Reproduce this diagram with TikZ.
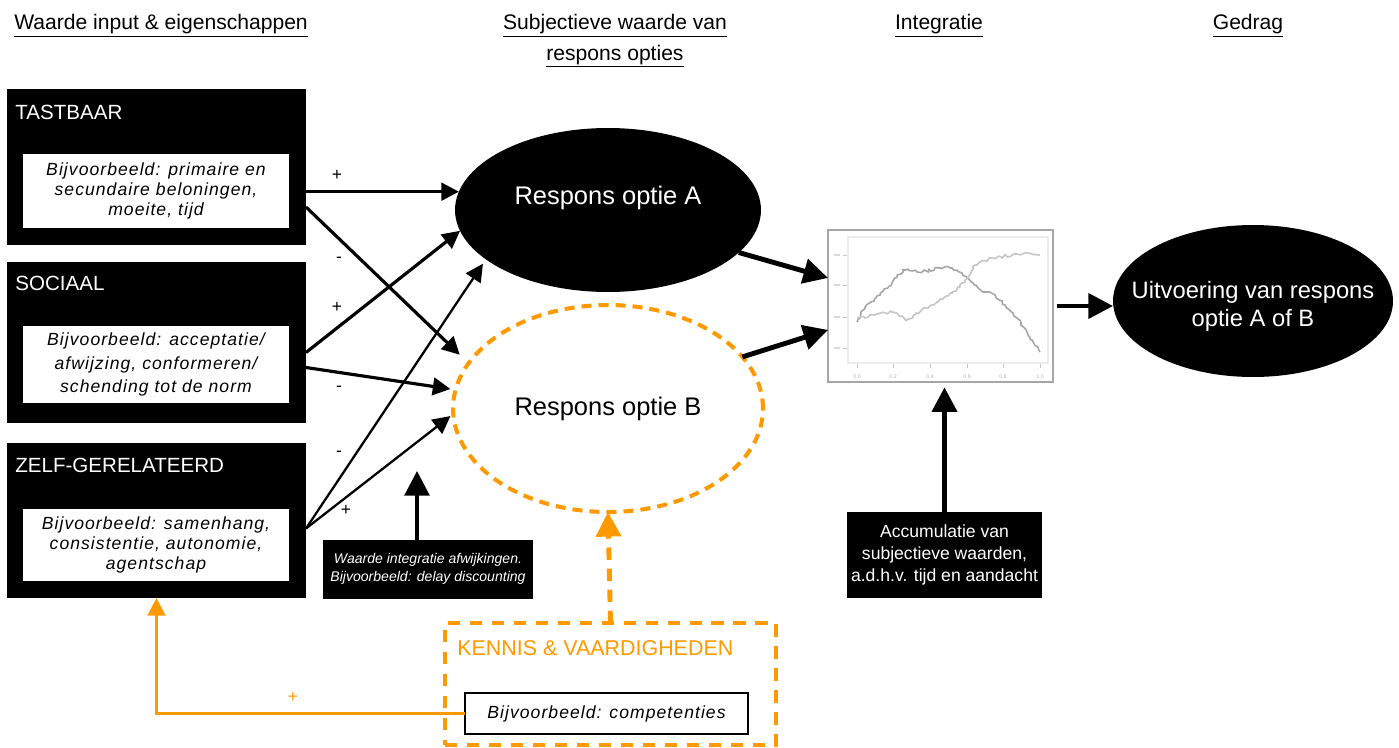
\documentclass[tikz,border=0pt]{standalone}
\usepackage{fontspec}
\setmainfont{Liberation Sans}
\newfontfamily\exfont[LetterSpace=6]{Liberation Sans}
\usetikzlibrary{arrows.meta,shapes,calc,decorations.pathmorphing}
\definecolor{oranje}{RGB}{255,153,0}
\tikzset{
  catbox/.style={fill=black,minimum width=5.98cm,inner sep=0pt,outer sep=0pt},
  exbox/.style={fill=white,minimum width=5.32cm,inner sep=0pt,outer sep=0pt,align=center,
    font=\exfont\itshape\fontsize{10}{11.5}\selectfont},
  cattitle/.style={anchor=west,text=white,font=\fontsize{11.7}{14}\selectfont,inner sep=0pt},
  header/.style={anchor=base,font=\fontsize{12}{17}\selectfont,inner sep=0pt},
  notebox/.style={fill=black,text=white,inner sep=0pt,outer sep=0pt,align=center},
  sign/.style={font=\fontsize{10}{12}\selectfont,inner sep=0pt},
  pijl/.style={-{Triangle[length=10pt,width=10pt]},line width=1.8pt},
  dunpijl/.style={pijl,line width=1.3pt},
  dikpijl/.style={-{Triangle[length=14pt,width=14pt]},line width=2.8pt},
  ruis/.style={line width=0.9pt,decorate,decoration={random steps,segment length=1.4pt,amplitude=0.8pt}}
}
\begin{document}
\begin{tikzpicture}[x=0.02cm,y=-0.02cm]
\useasboundingbox (0,0) rectangle (1399,747);
%headers
\node[header,anchor=base west] (hinput) at (14,30) {\underline{Waarde input \& eigenschappen}};
\node[header] (hsubj) at (615,30) {\underline{Subjectieve waarde van}};
\node[header] (hresp) at (615,60) {\underline{respons opties}};
\node[header] (hinteg) at (939,30) {\underline{Integratie}};
\node[header] (hgedrag) at (1248,30) {\underline{Gedrag}};
%input boxes
\node[catbox,minimum height=3.12cm] (tast) at (156.5,167) {};
\node[cattitle] (tasttitle) at (15,112) {TASTBAAR};
\node[exbox,minimum height=1.48cm] (tastex) at (156,191) {Bijvoorbeeld: primaire en\\secundaire beloningen,\\moeite, tijd};
\node[catbox,minimum height=3.22cm] (soc) at (156.5,342.5) {};
\node[cattitle] (soctitle) at (15,283) {SOCIAAL};
\node[exbox,minimum height=1.54cm] (socex) at (156,364.5) {Bijvoorbeeld: acceptatie/\\[2pt]afwijzing, conformeren/\\[2pt]schending tot de norm};
\node[catbox,minimum height=3.10cm] (zelf) at (156.5,520.5) {};
\node[cattitle] (zelftitle) at (15,465) {ZELF-GERELATEERD};
\node[exbox,minimum height=1.44cm] (zelfex) at (156,545) {Bijvoorbeeld: samenhang,\\consistentie, autonomie,\\agentschap};
%response options
\node[ellipse,fill=black,minimum width=6.12cm,minimum height=3.28cm,inner sep=0pt,outer sep=0pt] (optA) at (608,210) {};
\node[text=white,font=\fontsize{14.5}{17}\selectfont] (optAtxt) at (608,198) {Respons optie A};
\node[ellipse,draw=oranje,line width=2.3pt,dash pattern=on 5.7pt off 4pt,minimum width=6.2cm,minimum height=4.14cm,inner sep=0pt,outer sep=0pt,font=\fontsize{14.5}{17}\selectfont] (optB) at (608,408.5) {Respons optie B};
%integration plot
\node[draw=gray!70,line width=1.3pt,fill=white,minimum width=4.5cm,minimum height=3.04cm,inner sep=0pt,outer sep=0pt] (grafiek) at (940.5,306) {};
\begin{scope}[shift={(grafiek.north west)}]
\draw[gray!15,line width=1.6pt] (20,7) rectangle (220,133);
\foreach \y in {25,55,87,118}{
\draw[gray!45,line width=0.4pt] (15,\y) -- (19,\y);
\draw[gray!30,line width=0.8pt] (6,\y) -- (12,\y);
}
\foreach \x/\l in {29/0.0,65/0.2,102/0.4,139/0.6,175/0.8,212/1.0}{
\draw[gray!45,line width=0.4pt] (\x,134) -- (\x,138);
\node[font=\fontsize{3}{3}\selectfont,text=gray!60,inner sep=0pt] (xl\x) at (\x,147) {\l};
}
\pgfmathsetseed{7}
\draw[gray!70,ruis] (29,92) -- (37,77) -- (52,65) -- (64,53) -- (75,40) -- (94,42) -- (110,38) -- (124,38) -- (134,43) -- (145,53) -- (157,62) -- (167,65) -- (177,75) -- (189,88) -- (200,105) -- (212,122);
\draw[gray!45,ruis] (29,88) -- (47,85) -- (64,82) -- (79,90) -- (97,78) -- (110,72) -- (124,63) -- (137,52) -- (147,35) -- (164,28) -- (184,25) -- (197,23) -- (212,25);
\end{scope}
%behaviour
\node[ellipse,fill=black,minimum width=5.6cm,minimum height=3.04cm,inner sep=0pt,outer sep=0pt] (uitv) at (1253,301) {};
\node[text=white,align=center,font=\fontsize{13.5}{16}\selectfont] (uitvtxt) at (1253,306) {Uitvoering van respons\\optie A of B};
%notes
\node[notebox,minimum width=3.9cm,minimum height=1.72cm,font=\fontsize{10}{12.5}\selectfont] (accu) at (944.5,555) {Accumulatie van\\subjectieve waarden,\\a.d.h.v. tijd en aandacht};
\node[notebox,minimum width=4.2cm,minimum height=1.18cm,font=\itshape\fontsize{8}{10.2}\selectfont] (intg) at (428,569) {Waarde integratie afwijkingen.\\Bijvoorbeeld: delay discounting};
%knowledge and skills
\node[draw=oranje,line width=2.8pt,dash pattern=on 7pt off 5.5pt,minimum width=6.62cm,minimum height=2.44cm,inner sep=0pt,outer sep=0pt] (kennis) at (610.5,684) {};
\node[anchor=west,text=oranje,font=\fontsize{12.2}{14}\selectfont,inner sep=0pt] (kennistitle) at (457,648) {KENNIS \& VAARDIGHEDEN};
\node[exbox,draw=black,line width=0.9pt,minimum width=5.66cm,minimum height=0.82cm] (kennisex) at (606.5,713.5) {Bijvoorbeeld: competenties};
%arrows
\draw[pijl] (tast.east |- optA.173) -- (optA.173);
\draw[pijl,shorten >=7pt] ($(tast.east)+(0,40)$) -- (optB.162);
\draw[pijl] ($(soc.east)+(0,10)$) -- (optA.188);
\draw[pijl,shorten >=3pt] ($(soc.east)+(0,25)$) -- (optB.173);
\draw[dunpijl,shorten >=3pt] ($(zelf.east)+(0,8)$) -- (optA.202);
\draw[dunpijl,shorten >=2pt] ($(zelf.east)+(0,8)$) -- (optB.182);
\draw[dikpijl] (optA.342) -- (grafiek.166);
\draw[dikpijl] (optB.21) -- (grafiek.192);
\draw[dikpijl,shorten <=2pt] (grafiek.east) -- (grafiek.east -| uitv.west);
\draw[dikpijl,shorten >=3pt] (accu.north) -- (accu.north |- grafiek.south);
\coordinate (intgtip) at (417,471);
\draw[dikpijl,line width=2.3pt] (intg.north -| intgtip) -- (intgtip);
\draw[dikpijl,oranje,dash pattern=on 7pt off 5pt] (kennis.north) -- (optB.south);
\draw[pijl,oranje,line width=1.7pt] (kennisex.west) -| (zelf.south);
%signs
\node[sign] (s1) at (337,175) {+};
\node[sign] (s2) at (339,260) {-};
\node[sign] (s3) at (337,307) {+};
\node[sign] (s4) at (339,389) {-};
\node[sign] (s5) at (339,454) {-};
\node[sign] (s6) at (346,510) {+};
\node[sign,text=oranje] (s7) at (293,697) {+};
\end{tikzpicture}
\end{document}
